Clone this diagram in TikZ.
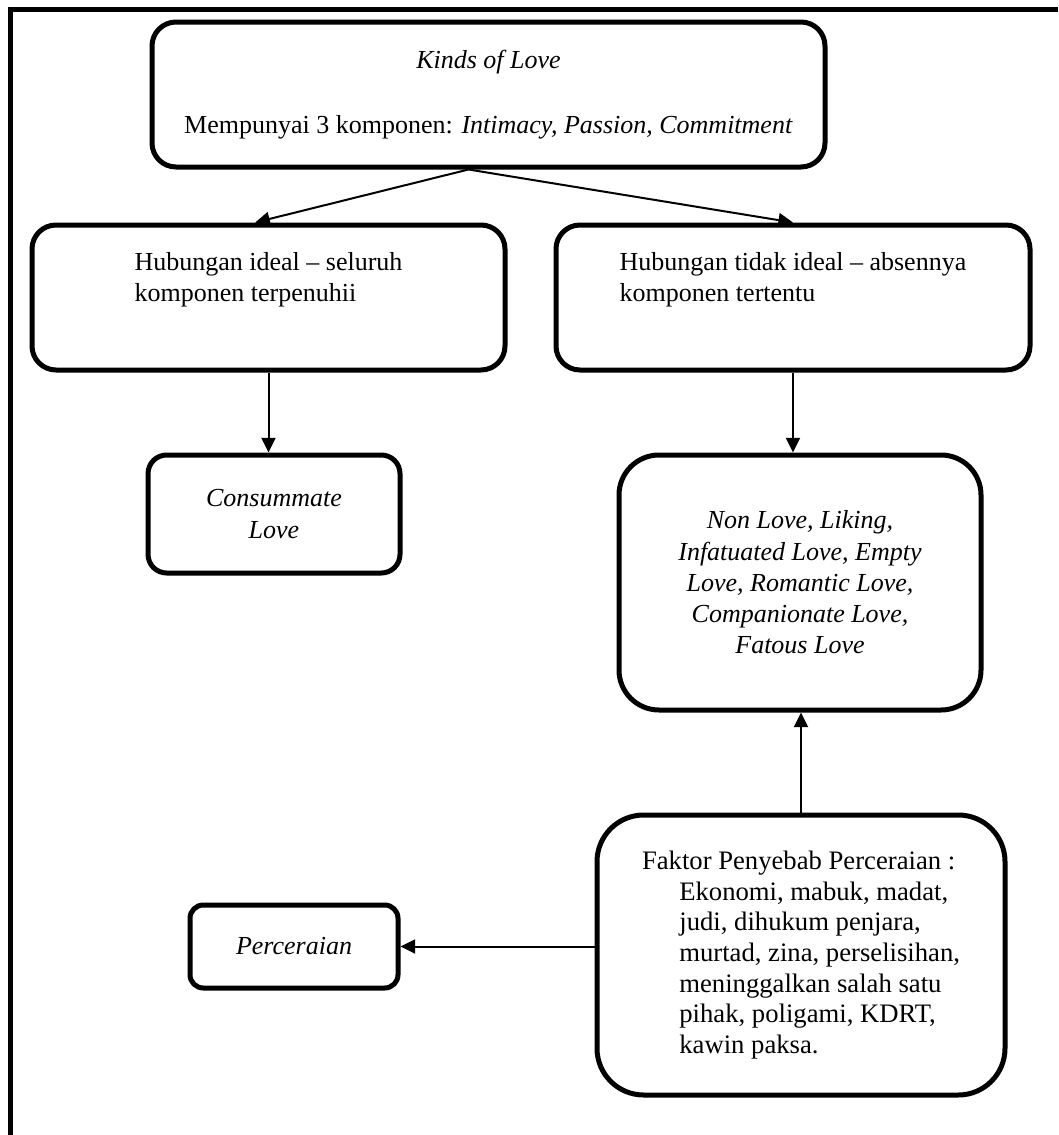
\documentclass[tikz,border=0pt]{standalone}
\usepackage{fontspec}
\setmainfont{Liberation Serif}
\usetikzlibrary{arrows.meta}
\usetikzlibrary{calc}

\begin{document}
\begin{tikzpicture}[x=0.75pt, y=-0.75pt,
    every node/.style={font=\fontsize{19.5pt}{23.4pt}\selectfont},
    bx/.style 2 args={draw, line width=3.75pt, minimum width=#1*0.75pt, minimum height=#2*0.75pt, inner sep=0pt, align=center},
    arr/.style={-{Triangle[length=11pt, width=10.5pt]}, line width=1.5pt}]
      % Page size of the scan
      \useasboundingbox (0,0) rectangle (1058,1135);
      % Outer frame (left and top only)
      \draw[line width=3.75pt] (10.5,1135) -- (10.5,9.5) -- (1058,9.5);
      % Top box
      \node[bx={673}{145}, rounded corners=18pt] (kinds) at (488.5,94.5)
        {\textit{Kinds of Love}\\[25pt]Mempunyai 3 komponen: \textit{Intimacy, Passion, Commitment}};
      % Second row
      \node[bx={473}{145}, rounded corners=18pt] (ideal) at (268.5,297.5)
        {\raisebox{8pt}[0pt][0pt]{\begin{tabular}{@{}l@{}}Hubungan ideal -- seluruh\\komponen terpenuhii\end{tabular}}};
      \node[bx={474}{145}, rounded corners=18pt] (tideal) at (793,297.5)
        {\raisebox{8pt}[0pt][0pt]{\begin{tabular}{@{}l@{}}Hubungan tidak ideal -- absennya\\komponen tertentu\end{tabular}}};
      % Third row
      \node[bx={252}{118}, rounded corners=14pt, font=\fontsize{19.5pt}{23.4pt}\itshape] (consum) at (274,514)
        {Consummate\\Love};
      \node[bx={362}{255}, rounded corners=30pt, font=\fontsize{19.5pt}{23.4pt}\itshape] (jenis) at (800,582.5)
        {Non Love, Liking,\\Infatuated Love, Empty\\Love, Romantic Love,\\Companionate Love,\\Fatous Love};
      % Bottom row
      \node[bx={408}{280}, rounded corners=35pt, align=left, font=\fontsize{20pt}{23pt}\selectfont] (faktor) at (801,955)
        {Faktor Penyebab Perceraian :\\
         \hspace*{28pt}Ekonomi, mabuk, madat,\\
         \hspace*{28pt}judi, dihukum penjara,\\
         \hspace*{28pt}murtad, zina, perselisihan,\\
         \hspace*{28pt}meninggalkan salah satu\\
         \hspace*{28pt}pihak, poligami, KDRT,\\
         \hspace*{28pt}kawin paksa.};
      \node[bx={208}{83}, rounded corners=10pt, font=\fontsize{19.5pt}{23.4pt}\itshape] (cerai) at (294,946.5)
        {Perceraian};
      % Connectors
      \draw[arr] ([xshift=-15pt]kinds.south) -- ([xshift=-10pt]ideal.north);
      \draw[arr] ([xshift=-15pt]kinds.south) -- (tideal.north);
      \draw[arr] (ideal.south) -- (ideal.south |- consum.north);
      \draw[arr] (tideal.south) -- (tideal.south |- jenis.north);
      \draw[arr] (faktor.north) -- (faktor.north |- jenis.south);
      \draw[arr] (faktor.west |- cerai) -- (cerai.east);
    \end{tikzpicture}
\end{document}
